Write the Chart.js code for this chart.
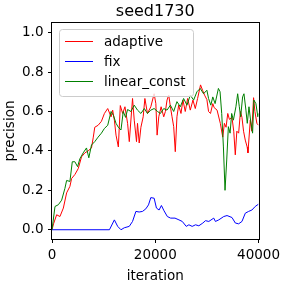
<!DOCTYPE html>
<html>
<head>
<meta charset="utf-8">
<script src="https://cdn.jsdelivr.net/npm/chart.js@4.4.1/dist/chart.umd.min.js"></script>
<style>
    html, body { margin: 0; padding: 0; background: #fff; overflow: hidden; }
    #wrap { width: 284px; height: 285px; position: relative; }
</style>
</head>
<body>
<div id="wrap"><canvas id="seedChart"></canvas></div>
<script>
// datos
const chartTitle = 'seed1730';
const seriesNames = ['adaptive', 'fix', 'linear_const'];
const seriesColors = ['#ff0000', '#0000ff', '#008000'];

const adaptiveIter = [0, 300, 900, 1540, 2200, 2830, 3470, 3800, 4430, 5080, 5720, 6360, 7000, 7650, 8000, 8280,
    8930, 9570, 10150, 10790, 11440, 11750, 12080, 12400, 12850, 13230, 13680, 14130, 14640, 14970, 15600,
    15930, 16370, 16560, 16890, 17220, 17660, 17990, 18490, 19140, 19780, 20110, 20360, 20680, 21130, 21640,
    21960, 22280, 22610, 22930, 23250, 23570, 23880, 24200, 24530, 24980, 25360, 25810, 26270, 26780, 27300,
    27750, 28200, 28770, 29160, 29550, 30000, 30320, 30700, 31140, 31400, 31970, 32600, 33070, 33390, 33710,
    34040, 34360, 34860, 35200, 35500, 35800, 36150, 36500, 36790, 37100, 37430, 37800, 37950, 38400, 38700,
    39040, 39300, 39680, 40000];
const adaptiveVals = [0.0, 0.03, 0.076, 0.067, 0.11, 0.187, 0.22, 0.26, 0.28, 0.31, 0.37, 0.39, 0.40, 0.415, 0.47, 0.52,
    0.53, 0.55, 0.59, 0.615, 0.573, 0.607, 0.556, 0.48, 0.42, 0.63, 0.59, 0.624, 0.54, 0.447, 0.666,
    0.556, 0.447, 0.54, 0.44, 0.52, 0.573, 0.666, 0.59, 0.624, 0.69, 0.64, 0.48, 0.573, 0.624, 0.573,
    0.6, 0.658, 0.683, 0.624, 0.573, 0.523, 0.396, 0.573, 0.632, 0.59, 0.658, 0.6, 0.666, 0.607, 0.658,
    0.615, 0.666, 0.735, 0.708, 0.683, 0.66, 0.6, 0.59, 0.64, 0.62, 0.607, 0.54, 0.47, 0.54, 0.52,
    0.59, 0.56, 0.57, 0.5, 0.38, 0.5, 0.49, 0.6, 0.57, 0.5, 0.455, 0.42, 0.39, 0.556, 0.5,
    0.67, 0.6, 0.54, 0.53];

const fixIter = [0, 11130, 12080, 12720, 13360, 14000, 14960, 15600, 16250, 16880, 17530, 18170, 18690, 19140,
    19780, 20230, 20740, 21190, 21700, 22340, 22980, 23820, 24590, 25230, 26000, 26510, 27150, 27800, 28440,
    29210, 29730, 30370, 31330, 31650, 32300, 33260, 33900, 34860, 35510, 36150, 36790, 37440, 38080, 38720,
    39360, 40000];
const fixVals = [0.0, 0.0, 0.05, 0.017, 0.0, 0.01, 0.017, 0.042, 0.093, 0.09, 0.093, 0.106, 0.126, 0.163,
    0.16, 0.11, 0.1, 0.123, 0.096, 0.067, 0.059, 0.059, 0.05, 0.042, 0.017, 0.025, 0.017, 0.025, 0.02,
    0.034, 0.046, 0.042, 0.059, 0.042, 0.05, 0.067, 0.072, 0.062, 0.034, 0.03, 0.042, 0.084, 0.093, 0.1,
    0.118, 0.13];

const linearIter = [0, 580, 1230, 1870, 2500, 2830, 3470, 3930, 4430, 4950, 5400, 6040, 6680, 7130, 7650, 8280,
    8930, 9570, 10150, 10790, 11440, 11900, 12400, 12850, 13360, 13800, 14250, 14640, 15280, 15930, 16560,
    17220, 17880, 18490, 19140, 19780, 20440, 21000, 21640, 22280, 22930, 23570, 24200, 24850, 25490, 26140,
    26780, 27430, 28070, 28710, 29350, 30000, 30320, 30760, 31140, 31590, 32230, 32550, 32870, 33200, 33510,
    33840, 34160, 34490, 34800, 35130, 35620, 35960, 36280, 36540, 36920, 37180, 37560, 37820, 38150, 38460,
    38850, 39100, 39490, 39870, 40000];
const linearVals = [0.0, 0.118, 0.127, 0.15, 0.21, 0.25, 0.245, 0.345, 0.345, 0.32, 0.36, 0.39, 0.415, 0.365, 0.43, 0.447,
    0.47, 0.49, 0.514, 0.53, 0.6, 0.58, 0.54, 0.52, 0.506, 0.6, 0.57, 0.61, 0.6, 0.632, 0.607,
    0.59, 0.615, 0.59, 0.607, 0.615, 0.6, 0.59, 0.615, 0.607, 0.632, 0.6, 0.65, 0.624, 0.666, 0.632,
    0.683, 0.658, 0.7, 0.717, 0.69, 0.708, 0.666, 0.632, 0.674, 0.64, 0.717, 0.7, 0.59, 0.42, 0.2,
    0.354, 0.523, 0.49, 0.59, 0.556, 0.624, 0.69, 0.624, 0.573, 0.674, 0.69, 0.607, 0.54, 0.624, 0.556,
    0.49, 0.658, 0.64, 0.573, 0.59];

const xTicks = [0, 20000, 40000];
const yTicks = [0.0, 0.2, 0.4, 0.6, 0.8, 1.0];

const FONT = 'DejaVu Sans';

function toPoints(xs, ys) {
    return xs.map((x, i) => ({ x: x, y: ys[i] }));
}

document.addEventListener('DOMContentLoaded', function () {
    initSeedChart();
});

/**
 * Dibuja el marco, el título y la leyenda al estilo matplotlib.
 */
const frameLegendPlugin = {
    id: 'frameLegend',
    afterDraw: (chart) => {
        const { ctx, chartArea: { left, right, top, bottom } } = chart;
        ctx.save();
        // marco
        ctx.strokeStyle = '#000';
        ctx.lineWidth = 1;
        ctx.strokeRect(Math.round(left) - 0.5, Math.round(top) - 0.5, Math.round(right - left) + 1, Math.round(bottom - top) + 1);

        // título
        ctx.fillStyle = '#000';
        ctx.font = `16px ${FONT}`;
        ctx.textAlign = 'center';
        ctx.textBaseline = 'alphabetic';
        ctx.fillText(chartTitle, (left + right) / 2, 15.5);

        // leyenda
        const bx = 59.5, by = 29.5, bw = 134, bh = 67;
        ctx.fillStyle = 'rgba(255,255,255,0.8)';
        ctx.strokeStyle = '#cccccc';
        ctx.beginPath();
        ctx.roundRect(bx, by, bw, bh, 3);
        ctx.fill();
        ctx.stroke();
        ctx.font = `13.5px ${FONT}`;
        ctx.textAlign = 'left';
        ctx.textBaseline = 'middle';
        chart.data.datasets.forEach((ds, i) => {
            const yy = 41.5 + i * 20;
            ctx.strokeStyle = ds.borderColor;
            ctx.beginPath();
            ctx.moveTo(65, yy);
            ctx.lineTo(93, yy);
            ctx.stroke();
            ctx.fillStyle = '#000';
            ctx.fillText(ds.label, 104, yy + 0.5);
        });
        ctx.restore();
    }
};

function initSeedChart() {
    const ctx = document.getElementById('seedChart');
    if (typeof Chart === 'undefined') {
        console.error('Chart.js no está cargado.');
        return;
    }

    const pointSets = [
        toPoints(adaptiveIter, adaptiveVals),
        toPoints(fixIter, fixVals),
        toPoints(linearIter, linearVals)
    ];

    new Chart(ctx, {
        type: 'line',
        data: {
            datasets: seriesNames.map((name, i) => ({
                label: name,
                data: pointSets[i],
                borderColor: seriesColors[i],
                borderWidth: 1,
                pointRadius: 0,
                tension: 0,
                fill: false,
                order: seriesNames.length - i
            }))
        },
        options: {
            responsive: true,
            maintainAspectRatio: false,
            animation: false,
            layout: { padding: { top: 23, right: 24, bottom: 0, left: 0 } },
            plugins: {
                legend: { display: false },
                title: { display: false },
                tooltip: { enabled: false }
            },
            scales: {
                x: {
                    type: 'linear',
                    min: 0,
                    max: 40000,
                    afterBuildTicks: (scale) => { scale.ticks = xTicks.map(v => ({ value: v })); },
                    afterFit: (scale) => { scale.height = 46; },
                    grid: { display: true, drawOnChartArea: false, drawTicks: true, tickLength: 4, color: '#000' },
                    border: { display: false },
                    ticks: {
                        color: '#000',
                        font: { family: FONT, size: 13.5 },
                        padding: 4,
                        maxRotation: 0,
                        callback: (v) => String(v)
                    },
                    title: {
                        display: true,
                        text: 'iteration',
                        color: '#000',
                        font: { family: FONT, size: 13.5 },
                        padding: { top: 0, bottom: 0 }
                    }
                },
                y: {
                    min: -0.047,
                    max: 1.049,
                    afterBuildTicks: (scale) => { scale.ticks = yTicks.map(v => ({ value: v })); },
                    afterFit: (scale) => { scale.width = 52; },
                    grid: { display: true, drawOnChartArea: false, drawTicks: true, tickLength: 4, color: '#000' },
                    border: { display: false },
                    ticks: {
                        color: '#000',
                        font: { family: FONT, size: 13.5 },
                        padding: 4.5,
                        callback: (v) => v.toFixed(1)
                    },
                    title: {
                        display: true,
                        text: 'precision',
                        color: '#000',
                        font: { family: FONT, size: 13.5 },
                        padding: { top: 2, bottom: 0 }
                    }
                }
            }
        },
        plugins: [frameLegendPlugin]
    });
}
</script>
</body>
</html>
